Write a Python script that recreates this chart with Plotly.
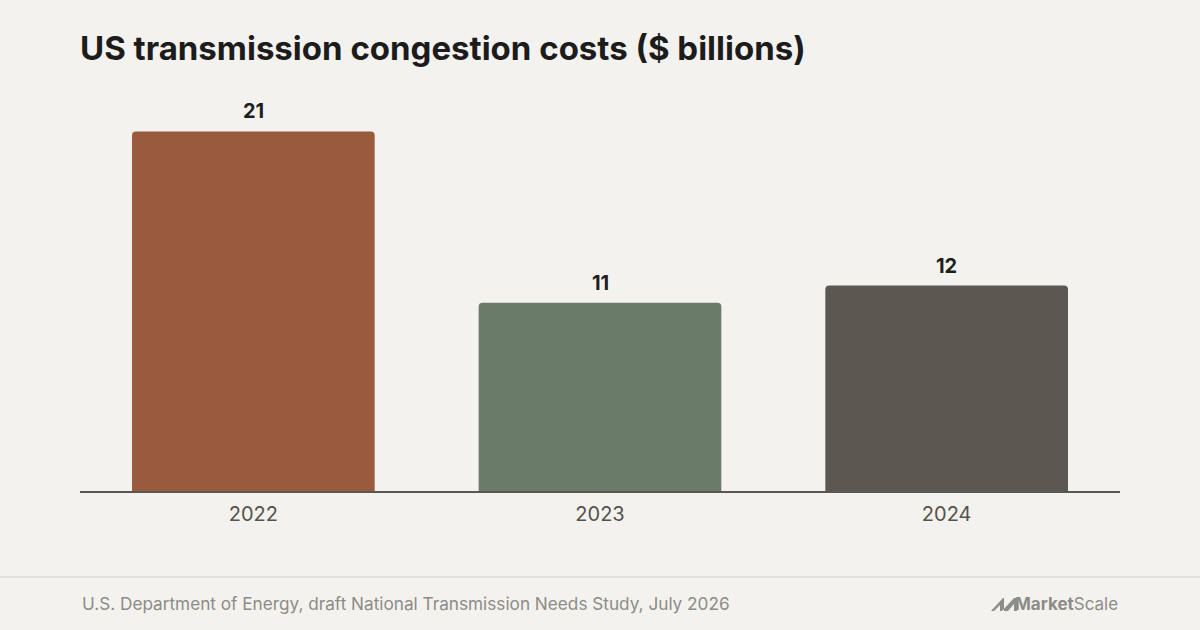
import plotly.graph_objects as go

years = ["2022", "2023", "2024"]
costs = [21, 11, 12]
bar_colors = ["#9a5a3e", "#6b7b6a", "#5c5750"]

title = "US transmission congestion costs ($ billions)"
source = "U.S. Department of Energy, draft National Transmission Needs Study, July 2026"

W, H = 1200, 630
L, R, T, B = 80, 80, 80, 139
plot_w = W - L - R
plot_h = H - T - B


def px_x(px):
    return (px - L) / plot_w


def px_y(py):
    return (H - B - py) / plot_h


fig = go.Figure()
fig.add_trace(go.Bar(
    x=years,
    y=costs,
    marker=dict(color=bar_colors, cornerradius=4, line=dict(width=0)),
    hoverinfo="skip",
))

# value labels above the bars (category index, since "2022" would be read as index 2022)
for i, v in enumerate(costs):
    fig.add_annotation(x=i, y=v, text=f"<b>{v}</b>", showarrow=False,
                       yanchor="bottom", yshift=6,
                       font=dict(family="Inter", size=20, color="#1f1f1f"))

# footer divider
fig.add_shape(type="line", xref="paper", yref="paper",
              x0=px_x(0), x1=px_x(W), y0=px_y(577), y1=px_y(577),
              line=dict(color="#e3e1dc", width=2))

# logo mark (rough)
def poly(pts):
    return "M " + " L ".join(f"{px_x(a):.5f},{px_y(b):.5f}" for a, b in pts) + " Z"

icon = " ".join([
    poly([(991, 611), (1003, 598), (1004, 598), (1004, 611), (1000, 611), (1000, 605), (994, 611)]),
    poly([(1002, 611), (1014, 598), (1017, 598), (1017, 611), (1014, 611), (1014, 604), (1008, 611)]),
])
fig.add_shape(type="path", xref="paper", yref="paper", path=icon,
              fillcolor="#8c8c88", line=dict(width=0))

fig.add_annotation(text=source, xref="paper", yref="paper",
                   x=px_x(80), y=px_y(603), xanchor="left", yanchor="middle",
                   showarrow=False,
                   font=dict(family="Inter", size=17.2, color="#8c8c88"))
fig.add_annotation(text="<b>Market</b>Scale", xref="paper", yref="paper",
                   x=px_x(1120), y=px_y(604), xanchor="right", yanchor="middle",
                   showarrow=False,
                   font=dict(family="Inter", size=17, color="#8c8c88"))

fig.update_layout(
    width=W, height=H,
    margin=dict(l=L, r=R, t=T, b=B),
    paper_bgcolor="#f4f2ee",
    plot_bgcolor="#f4f2ee",
    bargap=0.3,
    showlegend=False,
    title=dict(text=f"<b>{title}</b>", xref="container", yref="container",
               x=L / W, y=1 - 48 / H, xanchor="left", yanchor="middle",
               font=dict(family="Inter", size=33, color="#1c1c1c")),
    xaxis=dict(type="category", showgrid=False, showline=True,
               linecolor="#5a5650", linewidth=2, ticks="",
               tickfont=dict(family="Inter", size=20, color="#55524d"),
               ticklabelstandoff=4, fixedrange=True),
    yaxis=dict(range=[0, 24], visible=False, showgrid=False, zeroline=False,
               fixedrange=True),
)

fig.write_html("out.html", config={"displayModeBar": False},
               post_script="document.body.style.margin='0';")
